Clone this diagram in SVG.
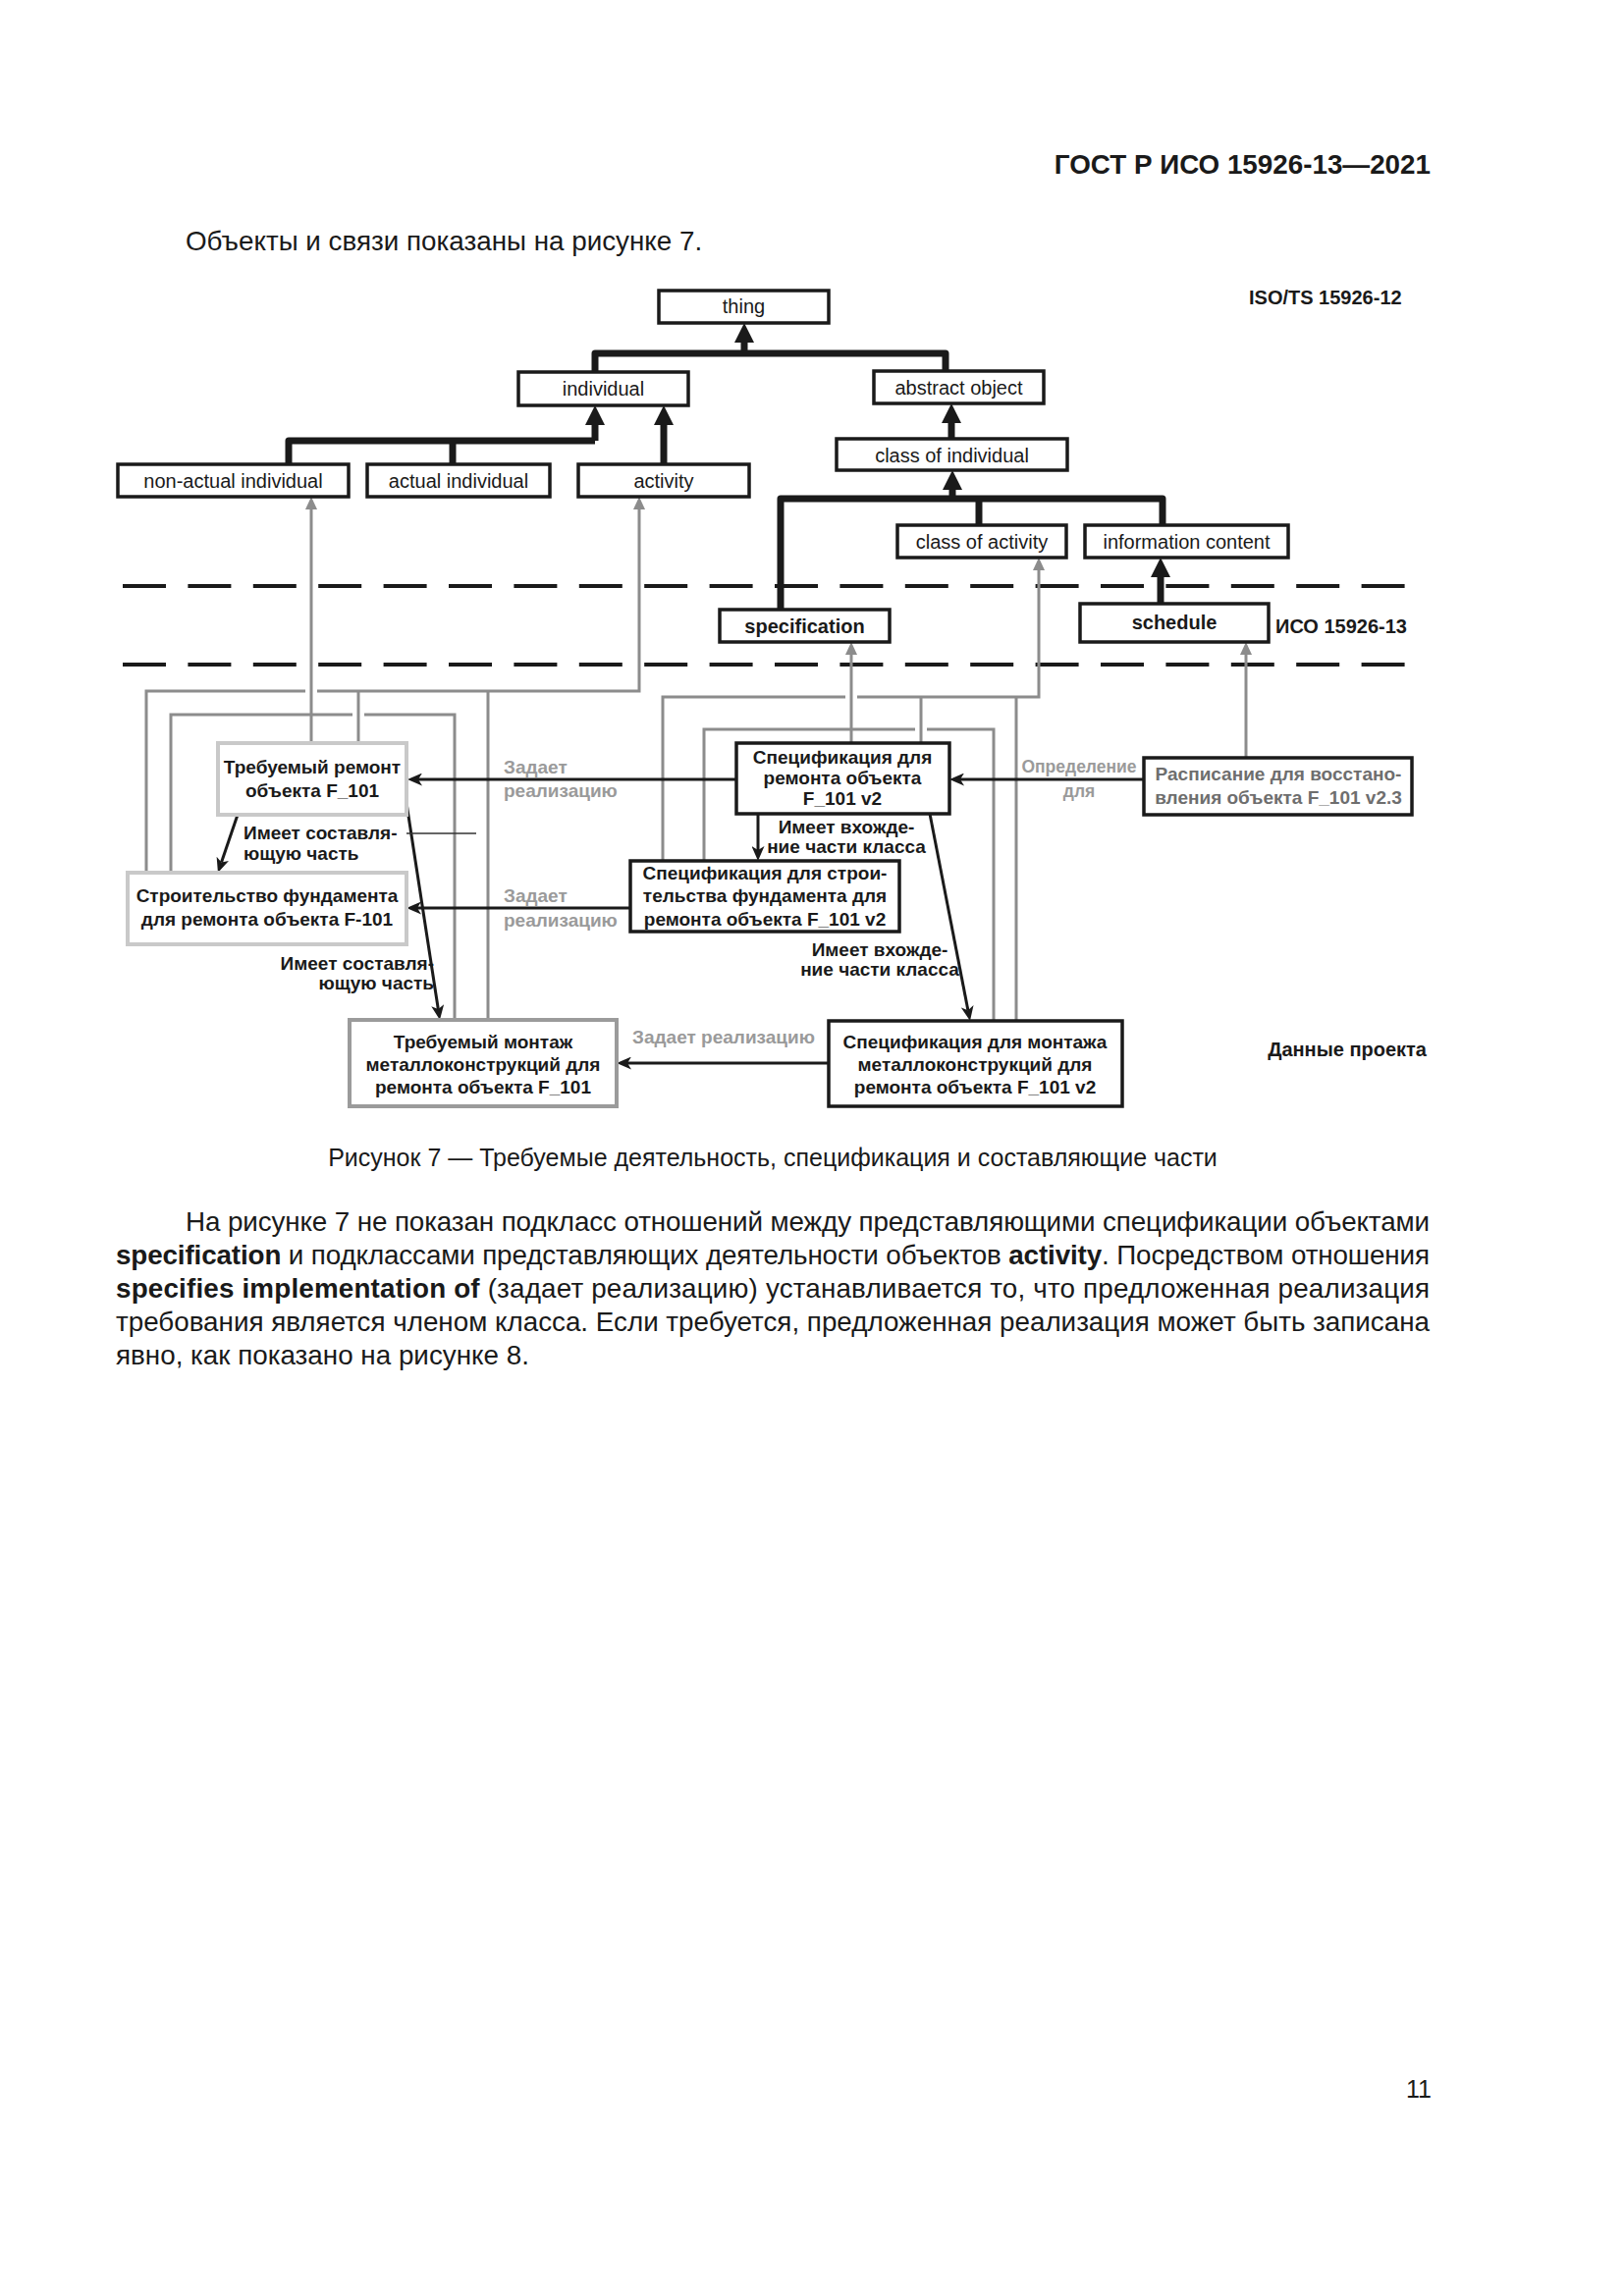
<svg xmlns="http://www.w3.org/2000/svg" width="1654" height="2339" viewBox="0 0 1654 2339">
<defs>
<style>
.bg{fill:#fff}
.box{fill:#fff;stroke:#1a1a1a;stroke-width:3.5}
.boxg{fill:#fff;stroke:#c9c9c9;stroke-width:4}
.boxm{fill:#fff;stroke:#9b9b9b;stroke-width:4}
.t{font-family:"Liberation Sans",Arial,sans-serif;font-size:20px;fill:#1a1a1a;text-anchor:middle}
.tb{font-family:"Liberation Sans",Arial,sans-serif;font-size:20px;font-weight:bold;fill:#1a1a1a;text-anchor:middle}
.nt{font-family:"Liberation Sans",Arial,sans-serif;font-size:19px;font-weight:bold;fill:#1a1a1a;text-anchor:middle}
.ntg{font-family:"Liberation Sans",Arial,sans-serif;font-size:19px;font-weight:bold;fill:#6e6e6e;text-anchor:middle}
.lg{font-family:"Liberation Sans",Arial,sans-serif;font-size:19px;font-weight:bold;fill:#9a9a9a}
.lk{font-family:"Liberation Sans",Arial,sans-serif;font-size:19px;font-weight:bold;fill:#1a1a1a}
.hd{font-family:"Liberation Sans",Arial,sans-serif;font-size:20px;font-weight:bold;fill:#1a1a1a}
.body{font-family:"Liberation Sans",Arial,sans-serif;font-size:27.8px;fill:#1a1a1a}
.b{font-weight:bold}
.hier{fill:none;stroke:#1a1a1a;stroke-width:7;stroke-linejoin:round}
.gl{fill:none;stroke:#8c8c8c;stroke-width:3}
.rl{fill:none;stroke:#1a1a1a;stroke-width:3}
.thin{fill:none;stroke:#333;stroke-width:1.3}
.dash{fill:none;stroke:#1a1a1a;stroke-width:4;stroke-dasharray:44 22.4}
</style>
<marker id="ah" markerUnits="userSpaceOnUse" markerWidth="20" markerHeight="20" viewBox="0 0 20 20" refX="0" refY="10" orient="auto"><path d="M0,0 L20,10 L0,20 z" fill="#1a1a1a"/></marker>
<marker id="ag" markerUnits="userSpaceOnUse" markerWidth="13" markerHeight="12" viewBox="0 0 13 12" refX="0" refY="6" orient="auto"><path d="M0,0 L13,6 L0,12 z" fill="#8c8c8c"/></marker>
<marker id="ar" markerUnits="userSpaceOnUse" markerWidth="15" markerHeight="13" viewBox="0 0 15 13" refX="4" refY="6.5" orient="auto"><path d="M0,0 L15,6.5 L0,13 L4,6.5 z" fill="#1a1a1a"/></marker>
</defs>
<rect class="bg" x="0" y="0" width="1654" height="2339"/>

<text class="body b" x="1457" y="177" text-anchor="end">ГОСТ Р ИСО 15926-13—2021</text>
<text class="body" x="189" y="255">Объекты и связи показаны на рисунке 7.</text>

<g id="zones">
<line class="dash" x1="125" y1="597" x2="1433" y2="597"/>
<line class="dash" x1="125" y1="677" x2="1433" y2="677"/>
<text class="hd" x="1272" y="310">ISO/TS 15926-12</text>
<text class="hd" x="1299" y="645">ИСО 15926-13</text>
<text class="hd" x="1453" y="1076" text-anchor="end">Данные проекта</text>
</g>

<g id="connectors">
<path class="hier" d="M606,379 V360 H963 V378"/>
<path class="hier" d="M758,360 V349" marker-end="url(#ah)"/>
<path class="hier" d="M294,473 V449 H606"/>
<path class="hier" d="M461,473 V449"/>
<path class="hier" d="M606,449 V433" marker-end="url(#ah)"/>
<path class="hier" d="M676,473 V433" marker-end="url(#ah)"/>
<path class="hier" d="M969,447 V431" marker-end="url(#ah)"/>
<path class="hier" d="M795,621 V508 H1184 V535"/>
<path class="hier" d="M997,535 V508"/>
<path class="hier" d="M970,508 V499" marker-end="url(#ah)"/>
<path class="hier" d="M1182,615 V588" marker-end="url(#ah)"/>

<path class="gl" d="M317,757 V519" marker-end="url(#ag)"/>
<path class="gl" d="M149,889 V704 H311"/>
<path class="gl" d="M323,704 H651 V519" marker-end="url(#ag)"/>
<path class="gl" d="M365,757 V704"/>
<path class="gl" d="M497,1039 V704"/>
<path class="gl" d="M174,889 V728 H359"/>
<path class="gl" d="M371,728 H463 V1039"/>

<path class="gl" d="M867,757 V667" marker-end="url(#ag)"/>
<path class="gl" d="M675,877 V710 H861"/>
<path class="gl" d="M873,710 H1058 V581" marker-end="url(#ag)"/>
<path class="gl" d="M938,757 V710"/>
<path class="gl" d="M1035,1040 V710"/>
<path class="gl" d="M717,877 V743 H932"/>
<path class="gl" d="M944,743 H1012 V1040"/>
<path class="gl" d="M1269,772 V667" marker-end="url(#ag)"/>

<path class="rl" d="M750,794 H426" marker-end="url(#ar)"/>
<path class="rl" d="M1165,794 H978" marker-end="url(#ar)"/>
<path class="rl" d="M642,925 H425" marker-end="url(#ar)"/>
<path class="rl" d="M844,1083 H639" marker-end="url(#ar)"/>
<path class="rl" d="M772,829 V866" marker-end="url(#ar)"/>
<path class="rl" d="M947,829 L985.9,1029.2" marker-end="url(#ar)"/>
<path class="rl" d="M242,830 L225.5,878.6" marker-end="url(#ar)"/>
<path class="rl" d="M412,805 L446.3,1028.1" marker-end="url(#ar)"/>
<line class="thin" x1="414" y1="849" x2="485" y2="849"/>

<text class="lg" x="513" y="788">Задает</text>
<text class="lg" x="513" y="812">реализацию</text>
<text class="lg" x="513" y="919">Задает</text>
<text class="lg" x="513" y="944">реализацию</text>
<text class="lg" x="737" y="1063" text-anchor="middle">Задает реализацию</text>
<text class="lg" x="1099" y="787" text-anchor="middle" style="font-size:17.5px">Определение</text>
<text class="lg" x="1099" y="812" text-anchor="middle" style="font-size:17.5px">для</text>
<text class="lk" x="862" y="849" text-anchor="middle">Имеет вхожде-</text>
<text class="lk" x="862" y="869" text-anchor="middle">ние части класса</text>
<text class="lk" x="896" y="974" text-anchor="middle">Имеет вхожде-</text>
<text class="lk" x="896" y="994" text-anchor="middle">ние части класса</text>
<text class="lk" x="248" y="855">Имеет составля-</text>
<text class="lk" x="248" y="876">ющую часть</text>
<text class="lk" x="442" y="988" text-anchor="end">Имеет составля-</text>
<text class="lk" x="442" y="1008" text-anchor="end">ющую часть</text>
</g>

<g id="thing"><rect class="box" x="671" y="296" width="173" height="33"/><text class="t" x="757.5" y="319">thing</text></g>
<g id="individual"><rect class="box" x="528" y="379" width="173" height="34"/><text class="t" x="614.5" y="403">individual</text></g>
<g id="abstract-object"><rect class="box" x="890" y="378" width="173" height="33"/><text class="t" x="976.5" y="402">abstract object</text></g>
<g id="non-actual-individual"><rect class="box" x="120" y="473" width="235" height="33"/><text class="t" x="237.5" y="497">non-actual individual</text></g>
<g id="actual-individual"><rect class="box" x="374" y="473" width="186" height="33"/><text class="t" x="467" y="497">actual individual</text></g>
<g id="activity"><rect class="box" x="589" y="473" width="174" height="33"/><text class="t" x="676" y="497">activity</text></g>
<g id="class-of-individual"><rect class="box" x="852" y="447" width="235" height="32"/><text class="t" x="969.5" y="471">class of individual</text></g>
<g id="class-of-activity"><rect class="box" x="914" y="535" width="172" height="33"/><text class="t" x="1000" y="559">class of activity</text></g>
<g id="information-content"><rect class="box" x="1105" y="535" width="207" height="33"/><text class="t" x="1208.5" y="559">information content</text></g>
<g id="specification"><rect class="box" x="733" y="621" width="173" height="33"/><text class="tb" x="819.5" y="645">specification</text></g>
<g id="schedule"><rect class="box" x="1100" y="615" width="192" height="39"/><text class="tb" x="1196" y="641">schedule</text></g>

<g id="req-repair"><rect class="boxg" x="222" y="757" width="192" height="73"/><text class="nt" x="318" y="788">Требуемый ремонт</text><text class="nt" x="318" y="812">объекта F_101</text></g>
<g id="foundation"><rect class="boxg" x="130" y="889" width="284" height="73"/><text class="nt" x="272" y="919">Строительство фундамента</text><text class="nt" x="272" y="943">для ремонта объекта F-101</text></g>
<g id="req-steel"><rect class="boxm" x="356" y="1039" width="272" height="88"/><text class="nt" x="492" y="1068">Требуемый монтаж</text><text class="nt" x="492" y="1091">металлоконструкций для</text><text class="nt" x="492" y="1114">ремонта объекта F_101</text></g>
<g id="spec-repair"><rect class="box" x="750" y="757" width="217" height="72"/><text class="nt" x="858" y="778">Спецификация для</text><text class="nt" x="858" y="799">ремонта объекта</text><text class="nt" x="858" y="820">F_101 v2</text></g>
<g id="spec-foundation"><rect class="box" x="642" y="877" width="274" height="72"/><text class="nt" x="779" y="896">Спецификация для строи-</text><text class="nt" x="779" y="919">тельства фундамента для</text><text class="nt" x="779" y="943">ремонта объекта F_101 v2</text></g>
<g id="spec-steel"><rect class="box" x="844" y="1040" width="299" height="87"/><text class="nt" x="993" y="1068">Спецификация для монтажа</text><text class="nt" x="993" y="1091">металлоконструкций для</text><text class="nt" x="993" y="1114">ремонта объекта F_101 v2</text></g>
<g id="schedule-restore"><rect class="box" x="1165" y="772" width="273" height="58"/><text class="ntg" x="1302" y="795">Расписание для восстано-</text><text class="ntg" x="1302" y="819">вления объекта F_101 v2.3</text></g>

<text class="body" x="787" y="1188" text-anchor="middle" style="font-size:25px">Рисунок 7 — Требуемые деятельность, спецификация и составляющие части</text>

<text class="body" x="189" y="1254" textLength="1267" lengthAdjust="spacing">На рисунке 7 не показан подкласс отношений между представляющими спецификации объектами</text>
<text class="body" x="118" y="1288" textLength="1338" lengthAdjust="spacing"><tspan class="b">specification</tspan> и подклассами представляющих деятельности объектов <tspan class="b">activity</tspan>. Посредством отношения</text>
<text class="body" x="118" y="1322" textLength="1338" lengthAdjust="spacing"><tspan class="b">specifies implementation of</tspan> (задает реализацию) устанавливается то, что предложенная реализация</text>
<text class="body" x="118" y="1356" textLength="1338" lengthAdjust="spacing">требования является членом класса. Если требуется, предложенная реализация может быть записана</text>
<text class="body" x="118" y="1390">явно, как показано на рисунке 8.</text>

<text class="body" x="1458" y="2137" text-anchor="end" style="font-size:25px">11</text>
</svg>
